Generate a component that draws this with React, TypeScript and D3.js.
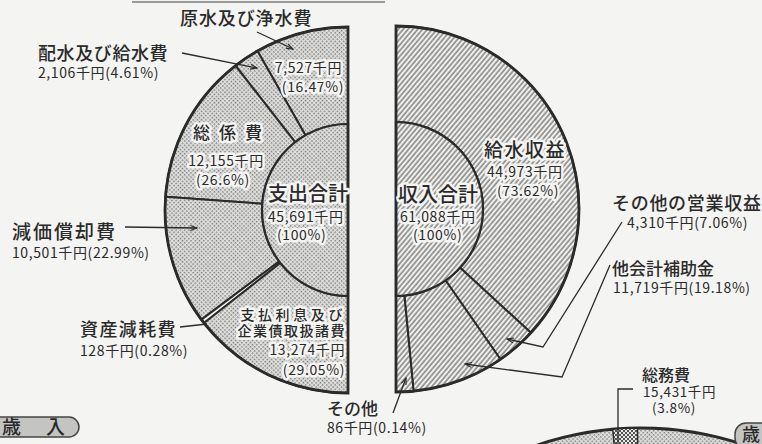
import React from "react";
import * as d3 from "d3";

// ---- data ----
const expenseNames = ["原水及び浄水費", "配水及び給水費", "総係費", "減価償却費", "資産減耗費", "支払利息及び企業債取扱諸費"];
const expenseValues = [7527, 2106, 12155, 10501, 128, 13274];
const expensePct = ["16.47", "4.61", "26.6", "22.99", "0.28", "29.05"];
const expenseTotal = 45691;

const revenueNames = ["給水収益", "その他の営業収益", "他会計補助金", "その他"];
const revenueValues = [44973, 4310, 11719, 86];
const revenuePct = ["73.62", "7.06", "19.18", "0.14"];
const revenueTotal = 61088;

const generalName = "総務費";
const generalValue = 15431;
const generalPct = "3.8";

const W = 762;
const H = 444;
const FONT = "'Noto Sans CJK JP', 'Noto Sans', sans-serif";
const fmt = d3.format(",");
const BG = "#f4f4f2";
const INK = "#2b2b2b";
const NUM_LS = 0.6;

type Slice = { start: number; end: number; i: number };

function halfPie(values: number[], dir: number, minDeg: number): Slice[] {
  const pie = d3.pie<number>().sort(null).startAngle(0).endAngle(dir * Math.PI);
  const arcs = pie(values).map((a, i) => ({ start: a.startAngle, end: a.endAngle, i }));
  const minA = (minDeg * Math.PI) / 180;
  for (let k = 1; k < arcs.length; k++) {
    const s = arcs[k];
    if (Math.abs(s.end - s.start) < minA) {
      if (k === arcs.length - 1) {
        s.start = s.end - dir * minA;
      } else {
        const mid = (s.start + s.end) / 2;
        s.start = mid - (dir * minA) / 2;
        s.end = mid + (dir * minA) / 2;
        arcs[k + 1].start = s.end;
      }
      arcs[k - 1].end = s.start;
    }
  }
  return arcs;
}

const Halo = ({ children, ...p }: any) => (
  <text
    {...p}
    stroke={BG}
    strokeWidth={5}
    strokeLinejoin="round"
    paintOrder="stroke"
    fill={p.fill || "#2a2a2a"}
    fontFamily={FONT}
  >
    {children}
  </text>
);

const T = ({ children, ...p }: any) => (
  <text {...p} fill={p.fill || "#2a2a2a"} fontFamily={FONT}>
    {children}
  </text>
);

export default function App() {
  const L = { cx: 348, cy: 210, R: 183, r: 86 };
  const Rt = { cx: 396, cy: 209, R: 183, r: 87 };

  const expArcs = halfPie(expenseValues, -1, 1.3);
  const revArcs = halfPie(revenueValues, 1, 5.5);

  const ring = (R: number, r: number) =>
    d3.arc<any>().innerRadius(r).outerRadius(R).startAngle((d: Slice) => d.start).endAngle((d: Slice) => d.end);
  const lRing = ring(L.R, L.r);
  const rRing = ring(Rt.R, Rt.r);
  const lInner = d3.arc<any>()({ innerRadius: 0, outerRadius: L.r, startAngle: 0, endAngle: -Math.PI }) as string;
  const rInner = d3.arc<any>()({ innerRadius: 0, outerRadius: Rt.r, startAngle: 0, endAngle: Math.PI }) as string;
  const lOuter = d3.arc<any>()({ innerRadius: 0, outerRadius: L.R, startAngle: 0, endAngle: -Math.PI }) as string;
  const rOuter = d3.arc<any>()({ innerRadius: 0, outerRadius: Rt.R, startAngle: 0, endAngle: Math.PI }) as string;

  // bottom partial pie (third chart, only its top edge is visible)
  const B = { cx: 641, cy: 752, R: 324 };
  const bShare = (parseFloat(generalPct) / 100) * 2 * Math.PI * 0.32;
  const bStart = (-5 * Math.PI) / 180;
  const bDisc = d3.arc<any>()({ innerRadius: 0, outerRadius: B.R, startAngle: 0, endAngle: 2 * Math.PI }) as string;
  const bSlice = d3.arc<any>()({ innerRadius: 0, outerRadius: B.R, startAngle: bStart, endAngle: bStart + bShare }) as string;

  const numSize = 14;

  return (
    <svg width={W} height={H} style={{ position: "absolute", left: 0, top: 0 }} xmlns="http://www.w3.org/2000/svg">
      <defs>
        <pattern id="dots" width={3} height={3} patternUnits="userSpaceOnUse" patternTransform="rotate(45)">
          <rect width={3} height={3} fill="#e1e1df" />
          <rect width={1.5} height={1.5} fill="#777" />
        </pattern>
        <pattern id="dots2" width={4} height={4} patternUnits="userSpaceOnUse">
          <rect width={4} height={4} fill="#e8e8e6" />
          <rect width={2} height={2} fill="#555" />
          <rect x={2} y={2} width={2} height={2} fill="#555" />
        </pattern>
        <pattern id="hatch" width={3.7} height={10} patternUnits="userSpaceOnUse" patternTransform="rotate(40)">
          <rect width={3.7} height={10} fill="#efefed" />
          <line x1={1} y1={0} x2={1} y2={10} stroke="#6a6a6a" strokeWidth={1.2} />
        </pattern>
        <marker id="arr" viewBox="-10 -6 12 12" markerWidth={10} markerHeight={10} refX={0} refY={0} orient="auto" markerUnits="userSpaceOnUse">
          <path d="M-8,-3 L0,0 L-8,3" fill="none" stroke={INK} strokeWidth={1.3} />
        </marker>
      </defs>
      <rect width={W} height={H} fill={BG} />

      {/* top rule */}
      <line x1={132} y1={2} x2={385} y2={2} stroke="#999" strokeWidth={2} />

      {/* ---- left donut ---- */}
      <g transform={`translate(${L.cx},${L.cy})`}>
        {expArcs.map((a) => (
          <path
            key={a.i}
            d={lRing(a) as string}
            fill={expenseValues[a.i] / expenseTotal < 0.01 ? BG : "url(#dots)"}
            stroke={INK}
            strokeWidth={2}
            strokeLinejoin="round"
          />
        ))}
        <path d={lInner} fill="url(#dots)" stroke={INK} strokeWidth={2.2} />
        <path d={lOuter} fill="none" stroke={INK} strokeWidth={2.8} />
      </g>

      {/* ---- right donut ---- */}
      <g transform={`translate(${Rt.cx},${Rt.cy})`}>
        {revArcs.map((a) => (
          <path key={a.i} d={rRing(a) as string} fill="url(#hatch)" stroke={INK} strokeWidth={2} strokeLinejoin="round" />
        ))}
        <path d={rInner} fill="url(#hatch)" stroke={INK} strokeWidth={2.2} />
        <path d={rOuter} fill="none" stroke={INK} strokeWidth={2.8} />
      </g>

      {/* ---- bottom partial pie ---- */}
      <g transform={`translate(${B.cx},${B.cy})`}>
        <path d={bDisc} fill="url(#dots)" stroke={INK} strokeWidth={2.8} />
        <path d={bSlice} fill="url(#dots2)" stroke={INK} strokeWidth={1.5} />
      </g>

      {/* ---- leaders ---- */}
      <g fill="none" stroke={INK} strokeWidth={1.3}>
        <polyline points="257,32 293,49" markerEnd="url(#arr)" />
        <polyline points="182,53 257,68" markerEnd="url(#arr)" />
        <polyline points="125,227 197,228" markerEnd="url(#arr)" />
        <polyline points="180,327 207,324" />
        <polyline points="393,413 406,378" markerEnd="url(#arr)" />
        <polyline points="622,222 543,347 507,339" markerEnd="url(#arr)" />
        <polyline points="610,265 562,377 465,364" markerEnd="url(#arr)" />
        <polyline points="633,389 618,389 618,444" />
      </g>

      {/* ---- left labels ---- */}
      <T x={180} y={25} fontSize={18} fontWeight={500} letterSpacing={0.9}>{expenseNames[0]}</T>
      <Halo x={342} y={73} fontSize={numSize} letterSpacing={NUM_LS} textAnchor="end">{fmt(expenseValues[0])}千円</Halo>
      <Halo x={344} y={92} fontSize={numSize} letterSpacing={NUM_LS} textAnchor="end">({expensePct[0]}%)</Halo>

      <T x={38} y={60} fontSize={18} fontWeight={500} letterSpacing={0.6}>{expenseNames[1]}</T>
      <T x={38} y={78} fontSize={numSize} letterSpacing={NUM_LS}>{fmt(expenseValues[1])}千円({expensePct[1]}%)</T>

      <Halo x={193} y={139} fontSize={17} fontWeight={500} letterSpacing={9}>{expenseNames[2]}</Halo>
      <Halo x={226} y={166} fontSize={numSize} letterSpacing={NUM_LS} textAnchor="middle">{fmt(expenseValues[2])}千円</Halo>
      <Halo x={223} y={185} fontSize={numSize} letterSpacing={NUM_LS} textAnchor="middle">({expensePct[2]}%)</Halo>

      <Halo x={268} y={201} fontSize={20} fontWeight={500}>支出合計</Halo>
      <Halo x={268} y={222} fontSize={numSize} letterSpacing={NUM_LS}>{fmt(expenseTotal)}千円</Halo>
      <Halo x={277} y={240} fontSize={numSize} letterSpacing={NUM_LS}>(100%)</Halo>

      <T x={12} y={239} fontSize={19} fontWeight={500} letterSpacing={2}>{expenseNames[3]}</T>
      <T x={12} y={258} fontSize={numSize} letterSpacing={NUM_LS}>{fmt(expenseValues[3])}千円({expensePct[3]}%)</T>

      <T x={80} y={336} fontSize={18} fontWeight={500} letterSpacing={1.4}>{expenseNames[4]}</T>
      <T x={80} y={356} fontSize={numSize} letterSpacing={NUM_LS}>{fmt(expenseValues[4])}千円({expensePct[4]}%)</T>

      <Halo x={346} y={320} fontSize={14} fontWeight={500} letterSpacing={3.6} textAnchor="end">{expenseNames[5].slice(0, 6)}</Halo>
      <Halo x={346} y={336} fontSize={14} fontWeight={500} letterSpacing={1.5} textAnchor="end">{expenseNames[5].slice(6)}</Halo>
      <Halo x={345} y={355} fontSize={numSize} letterSpacing={NUM_LS} textAnchor="end">{fmt(expenseValues[5])}千円</Halo>
      <Halo x={345} y={375} fontSize={numSize} letterSpacing={NUM_LS} textAnchor="end">({expensePct[5]}%)</Halo>

      {/* ---- right labels ---- */}
      <Halo x={484} y={157} fontSize={19} fontWeight={500} letterSpacing={1.5}>{revenueNames[0]}</Halo>
      <Halo x={487} y={177} fontSize={numSize} letterSpacing={NUM_LS}>{fmt(revenueValues[0])}千円</Halo>
      <Halo x={497} y={196} fontSize={numSize} letterSpacing={NUM_LS}>({revenuePct[0]}%)</Halo>

      <Halo x={398} y={202} fontSize={20} fontWeight={500}>収入合計</Halo>
      <Halo x={400} y={222} fontSize={numSize} letterSpacing={NUM_LS}>{fmt(revenueTotal)}千円</Halo>
      <Halo x={413} y={240} fontSize={numSize} letterSpacing={NUM_LS}>(100%)</Halo>

      <T x={612} y={210} fontSize={18} fontWeight={500} letterSpacing={0.7}>{revenueNames[1]}</T>
      <T x={627} y={228} fontSize={numSize} letterSpacing={NUM_LS}>{fmt(revenueValues[1])}千円({revenuePct[1]}%)</T>

      <T x={612} y={275} fontSize={17} fontWeight={500}>{revenueNames[2]}</T>
      <T x={613} y={293} fontSize={numSize} letterSpacing={NUM_LS}>{fmt(revenueValues[2])}千円({revenuePct[2]}%)</T>

      <T x={327} y={415} fontSize={17} fontWeight={500}>{revenueNames[3]}</T>
      <T x={327} y={433} fontSize={numSize} letterSpacing={NUM_LS}>{fmt(revenueValues[3])}千円({revenuePct[3]}%)</T>

      <T x={642} y={381} fontSize={16} fontWeight={500}>{generalName}</T>
      <T x={643} y={397} fontSize={13.5} letterSpacing={NUM_LS}>{fmt(generalValue)}千円</T>
      <T x={652} y={413} fontSize={13.5} letterSpacing={NUM_LS}>({generalPct}%)</T>

      {/* ---- section tabs ---- */}
      <rect x={-20} y={417} width={99} height={20} rx={10} fill="#c4c4c2" stroke="#444" strokeWidth={1.5} />
      <T x={2} y={434} fontSize={19} fontWeight={500}>歳</T>
      <T x={46} y={434} fontSize={19} fontWeight={500}>入</T>
      <rect x={735} y={423} width={60} height={26} rx={11} fill="#c4c4c2" stroke="#444" strokeWidth={1.5} />
      <T x={742} y={441} fontSize={18} fontWeight={500}>歳</T>
    </svg>
  );
}
